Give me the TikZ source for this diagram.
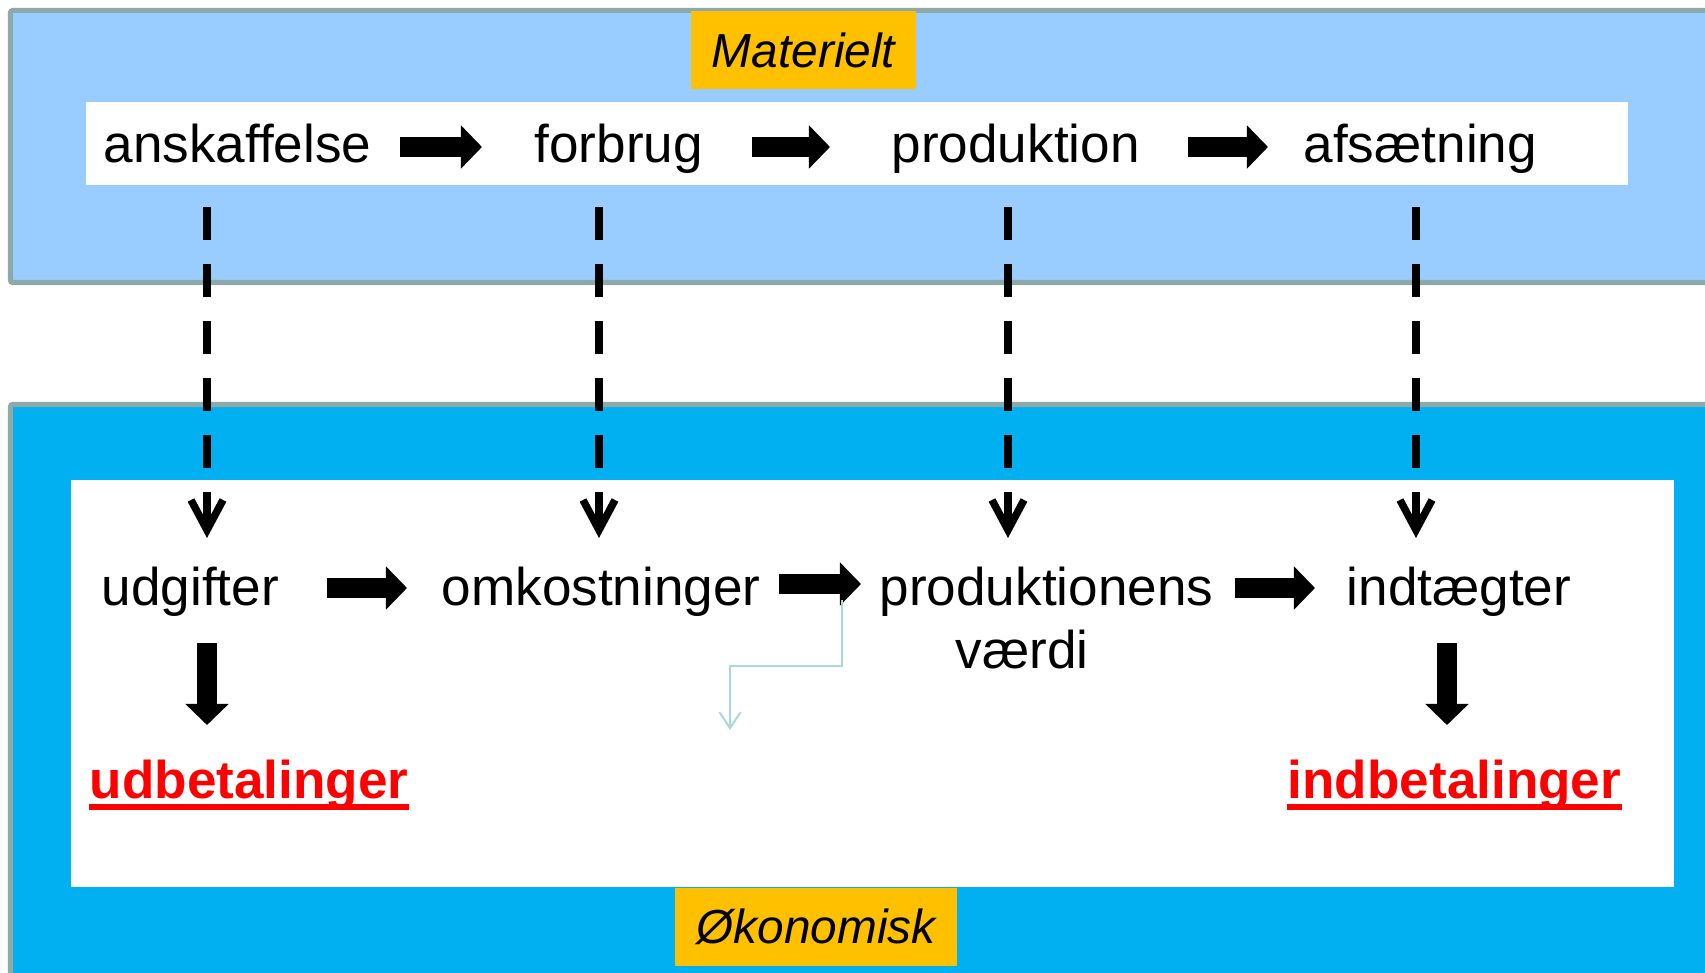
\documentclass[tikz,border=0pt]{standalone}
\usepackage{fontspec}
\setmainfont{Liberation Sans}
\usetikzlibrary{arrows.meta,calc}
\definecolor{topblue}{HTML}{99CCFF}
\definecolor{botblue}{HTML}{00B0F0}
\definecolor{lblorange}{HTML}{FFC000}
\definecolor{framegray}{HTML}{8FA9AA}
\definecolor{thincyan}{HTML}{A8D8DC}
\definecolor{pured}{HTML}{FF0000}
\begin{document}
\begin{tikzpicture}[x=0.01cm,y=-0.01cm,
  txt/.style={inner sep=0pt, anchor=base west, font=\fontsize{15.1pt}{18pt}\selectfont},
  paytxt/.style={inner sep=0pt, anchor=base west, text=pured, font=\fontsize{15.1pt}{18pt}\selectfont\bfseries},
  lbl/.style={fill=lblorange, inner sep=0pt, minimum height=0.78cm, font=\fontsize{13.6pt}{16pt}\selectfont\itshape},
  blk/.style={line width=0.2cm, -{Triangle[length=0.21cm,width=0.42cm]}},
  dsh/.style={line width=0.075cm, dash pattern=on 0.33cm off 0.24cm, -{Straight Barb[length=0.3cm,width=0.32cm]}},
  thinc/.style={draw=thincyan, line width=0.02cm, -{Straight Barb[length=0.16cm,width=0.21cm]}},
  frame/.style={draw=framegray, line width=0.05cm, rounded corners=0.02cm},
  ul/.style={draw=pured, line width=0.06cm}]
\useasboundingbox (0,0) rectangle (1705,973);
\clip (0,0) rectangle (1705,973);
% background panels
\draw[frame, fill=topblue] (10.5,10.5) rectangle (1760,282.5);
\fill[white] (86,102) rectangle (1628,185);
\draw[frame, fill=botblue] (10.5,404.5) rectangle (1760,1010);
\fill[white] (71,480) rectangle (1674,887);
% labels
\node[lbl, minimum width=2.25cm] (mat) at (803.5,50) {Materielt};
\node[lbl, minimum width=2.82cm] (oko) at (816,927) {Økonomisk};
% top row
\node[txt] (ansk) at (103,163) {anskaffelse};
\node[txt] (forb) at (534,163) {forbrug};
\node[txt] (prodt) at (891,163) {produktion};
\node[txt] (afs) at (1303,163) {afsætning};
% bottom row
\node[txt] (udg) at (101,605) {udgifter};
\node[txt] (omk) at (441,605) {omkostninger};
\node[txt] (prodv) at (879,605) {produktionens};
\node[txt] (vaerdi) at (955,668) {værdi};
\node[txt] (indt) at (1346,605) {indtægter};
\node[paytxt] (udb) at (89,798) {udbetalinger};
\node[paytxt] (indb) at (1287,798) {indbetalinger};
\draw[ul] ([yshift=-0.085cm]udb.base west) -- ([yshift=-0.085cm]udb.base east);
\draw[ul] ([yshift=-0.085cm]indb.base west) -- ([yshift=-0.085cm]indb.base east);
% top block arrows
\draw[blk] ($(ansk.base east)+(28,-16)$) -- ($(forb.base west)+(-52,-16)$);
\draw[blk] ($(forb.base east)+(48,-16)$) -- ($(prodt.base west)+(-61,-16)$);
\draw[blk] ($(prodt.base east)+(48,-16)$) -- ($(afs.base west)+(-35,-16)$);
% bottom block arrows
\draw[blk] ($(udg.base east)+(47,-17)$) -- ($(omk.base west)+(-34,-17)$);
\draw[blk] ($(omk.base east)+(18,-21)$) -- ($(prodv.base west)+(-18,-21)$);
\draw[blk] ($(prodv.base east)+(20.5,-17)$) -- ($(indt.base west)+(-31,-17)$);
\draw[blk] ($(udg.base west)+(106,38)$) -- ($(udb.base west)+(118,-73)$);
\draw[blk] ($(indt.base west)+(101,38)$) -- ($(indb.base west)+(160,-73)$);
% dashed links
\draw[dsh] ($(ansk.base west)+(104,44)$) -- ($(udg.base west)+(106,-67)$);
\draw[dsh] ($(forb.base west)+(65,44)$) -- ($(omk.base west)+(158,-67)$);
\draw[dsh] ($(prodt.base west)+(117,44)$) -- ($(prodv.base west)+(129,-67)$);
\draw[dsh] ($(afs.base west)+(113,44)$) -- ($(indt.base west)+(70,-67)$);
% thin connector
\draw[thinc] ($(prodv.base west)+(-37,-5)$) -- ++(0,66) -| ($(omk.base west)+(289,125)$);
\end{tikzpicture}
\end{document}
